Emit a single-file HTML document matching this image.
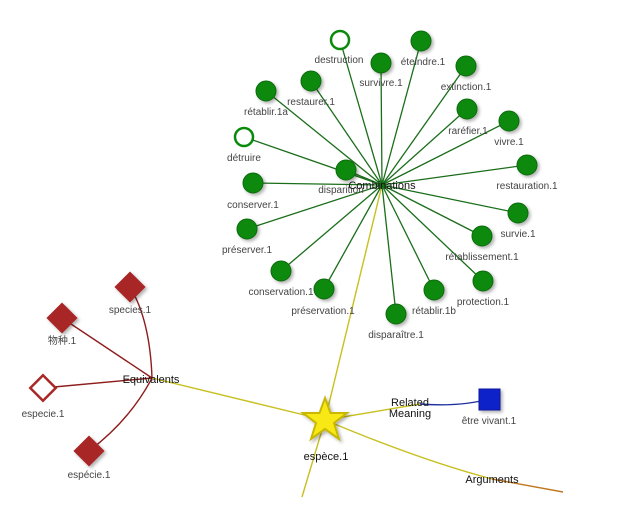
<!DOCTYPE html>
<html><head><meta charset="utf-8"><style>
html,body{margin:0;padding:0;background:#fff;width:628px;height:510px;overflow:hidden}
svg text{font-family:"Liberation Sans","Noto Sans CJK SC",sans-serif;font-size:10px;fill:#444;text-anchor:middle}
.h{fill:#111;font-size:11px}
</style></head><body>
<svg width="628" height="510" viewBox="0 0 628 510" xmlns="http://www.w3.org/2000/svg">
<defs><filter id="s" x="-50%" y="-50%" width="200%" height="200%"><feDropShadow dx="2" dy="2" stdDeviation="1.5" flood-color="#000" flood-opacity="0.3"/></filter></defs>
<g stroke="#c8c020" stroke-width="1.4" fill="none">
<line x1="325" y1="420" x2="382" y2="185"/>
<line x1="325" y1="420" x2="152" y2="378"/>
<line x1="325" y1="420" x2="302" y2="497"/>
<line x1="325" y1="420" x2="420" y2="404"/>
<path d="M325 420 Q420 460 492 479"/>
</g>
<path d="M492 479 Q530 486 563 492" stroke="#c07820" stroke-width="1.4" fill="none"/>
<path d="M420 404 Q460 407 489 399" stroke="#2030a0" stroke-width="1.4" fill="none"/>
<g stroke="#1a6e1a" stroke-width="1.3">
<line x1="382" y1="185" x2="340" y2="40"/><line x1="382" y1="185" x2="381" y2="63"/>
<line x1="382" y1="185" x2="421" y2="41"/><line x1="382" y1="185" x2="466" y2="66"/>
<line x1="382" y1="185" x2="311" y2="81"/><line x1="382" y1="185" x2="266" y2="91"/>
<line x1="382" y1="185" x2="467" y2="109"/><line x1="382" y1="185" x2="509" y2="121"/>
<line x1="382" y1="185" x2="244" y2="137"/><line x1="382" y1="185" x2="346" y2="170"/>
<line x1="382" y1="185" x2="527" y2="165"/><line x1="382" y1="185" x2="253" y2="183"/>
<line x1="382" y1="185" x2="518" y2="213"/><line x1="382" y1="185" x2="247" y2="229"/>
<line x1="382" y1="185" x2="482" y2="236"/><line x1="382" y1="185" x2="281" y2="271"/>
<line x1="382" y1="185" x2="483" y2="281"/><line x1="382" y1="185" x2="324" y2="289"/>
<line x1="382" y1="185" x2="434" y2="290"/><line x1="382" y1="185" x2="396" y2="314"/>
</g>
<g stroke="#8e1c1c" stroke-width="1.4" fill="none">
<path d="M152 378 Q150 320 130 287"/>
<line x1="152" y1="378" x2="62" y2="318"/>
<line x1="152" y1="378" x2="43" y2="388"/>
<path d="M152 378 Q130 420 89 451"/>
</g>
<g fill="#0a8a0a" stroke="#0a6a0a" stroke-width="1" filter="url(#s)">
<circle cx="381" cy="63" r="10"/><circle cx="421" cy="41" r="10"/><circle cx="466" cy="66" r="10"/>
<circle cx="311" cy="81" r="10"/><circle cx="266" cy="91" r="10"/><circle cx="467" cy="109" r="10"/>
<circle cx="509" cy="121" r="10"/><circle cx="346" cy="170" r="10"/><circle cx="527" cy="165" r="10"/>
<circle cx="253" cy="183" r="10"/><circle cx="518" cy="213" r="10"/><circle cx="247" cy="229" r="10"/>
<circle cx="482" cy="236" r="10"/><circle cx="281" cy="271" r="10"/><circle cx="483" cy="281" r="10"/>
<circle cx="324" cy="289" r="10"/><circle cx="434" cy="290" r="10"/><circle cx="396" cy="314" r="10"/>
</g>
<g fill="#fff" stroke="#0a8a0a" stroke-width="2.5">
<circle cx="340" cy="40" r="9"/><circle cx="244" cy="137" r="9"/>
</g>
<g fill="#a82828" filter="url(#s)">
<rect x="119" y="276" width="22" height="22" transform="rotate(45 130 287)"/>
<rect x="51" y="307" width="22" height="22" transform="rotate(45 62 318)"/>
<rect x="78" y="440" width="22" height="22" transform="rotate(45 89 451)"/>
</g>
<rect x="34" y="379" width="18" height="18" transform="rotate(45 43 388)" fill="#fff" stroke="#a82828" stroke-width="2.5"/>
<rect x="479" y="389" width="21" height="21" fill="#0a22c8" stroke="#0818a0" filter="url(#s)"/>
<polygon points="325,398 330.5,413 347,413 334,423 339,439 325,429 311,439 316,423 303,413 319.5,413" fill="#f8e818" stroke="#c8b800" stroke-width="2" filter="url(#s)"/>
<text x="339" y="63">destruction</text><text x="381" y="86">survivre.1</text>
<text x="423" y="65">éteindre.1</text><text x="466" y="90">extinction.1</text>
<text x="311" y="105">restaurer.1</text><text x="266" y="115">rétablir.1a</text>
<text x="468" y="134">raréfier.1</text><text x="509" y="145">vivre.1</text>
<text x="244" y="161">détruire</text><text x="341" y="193">disparition</text>
<text x="527" y="189">restauration.1</text><text x="253" y="208">conserver.1</text>
<text x="518" y="237">survie.1</text><text x="247" y="253">préserver.1</text>
<text x="482" y="260">rétablissement.1</text><text x="281" y="295">conservation.1</text>
<text x="483" y="305">protection.1</text><text x="323" y="314">préservation.1</text>
<text x="434" y="314">rétablir.1b</text><text x="396" y="338">disparaître.1</text>
<text class="h" x="382" y="189">Combinations</text>
<text x="130" y="313">species.1</text><text x="62" y="344">物种.1</text>
<text x="43" y="417">especie.1</text><text x="89" y="478">espécie.1</text>
<text class="h" x="151" y="383">Equivalents</text>
<text class="h" x="410" y="406">Related</text><text class="h" x="410" y="417">Meaning</text>
<text x="489" y="424">être vivant.1</text>
<text class="h" x="326" y="460">espèce.1</text>
<text class="h" x="492" y="483">Arguments</text>
</svg>
</body></html>
